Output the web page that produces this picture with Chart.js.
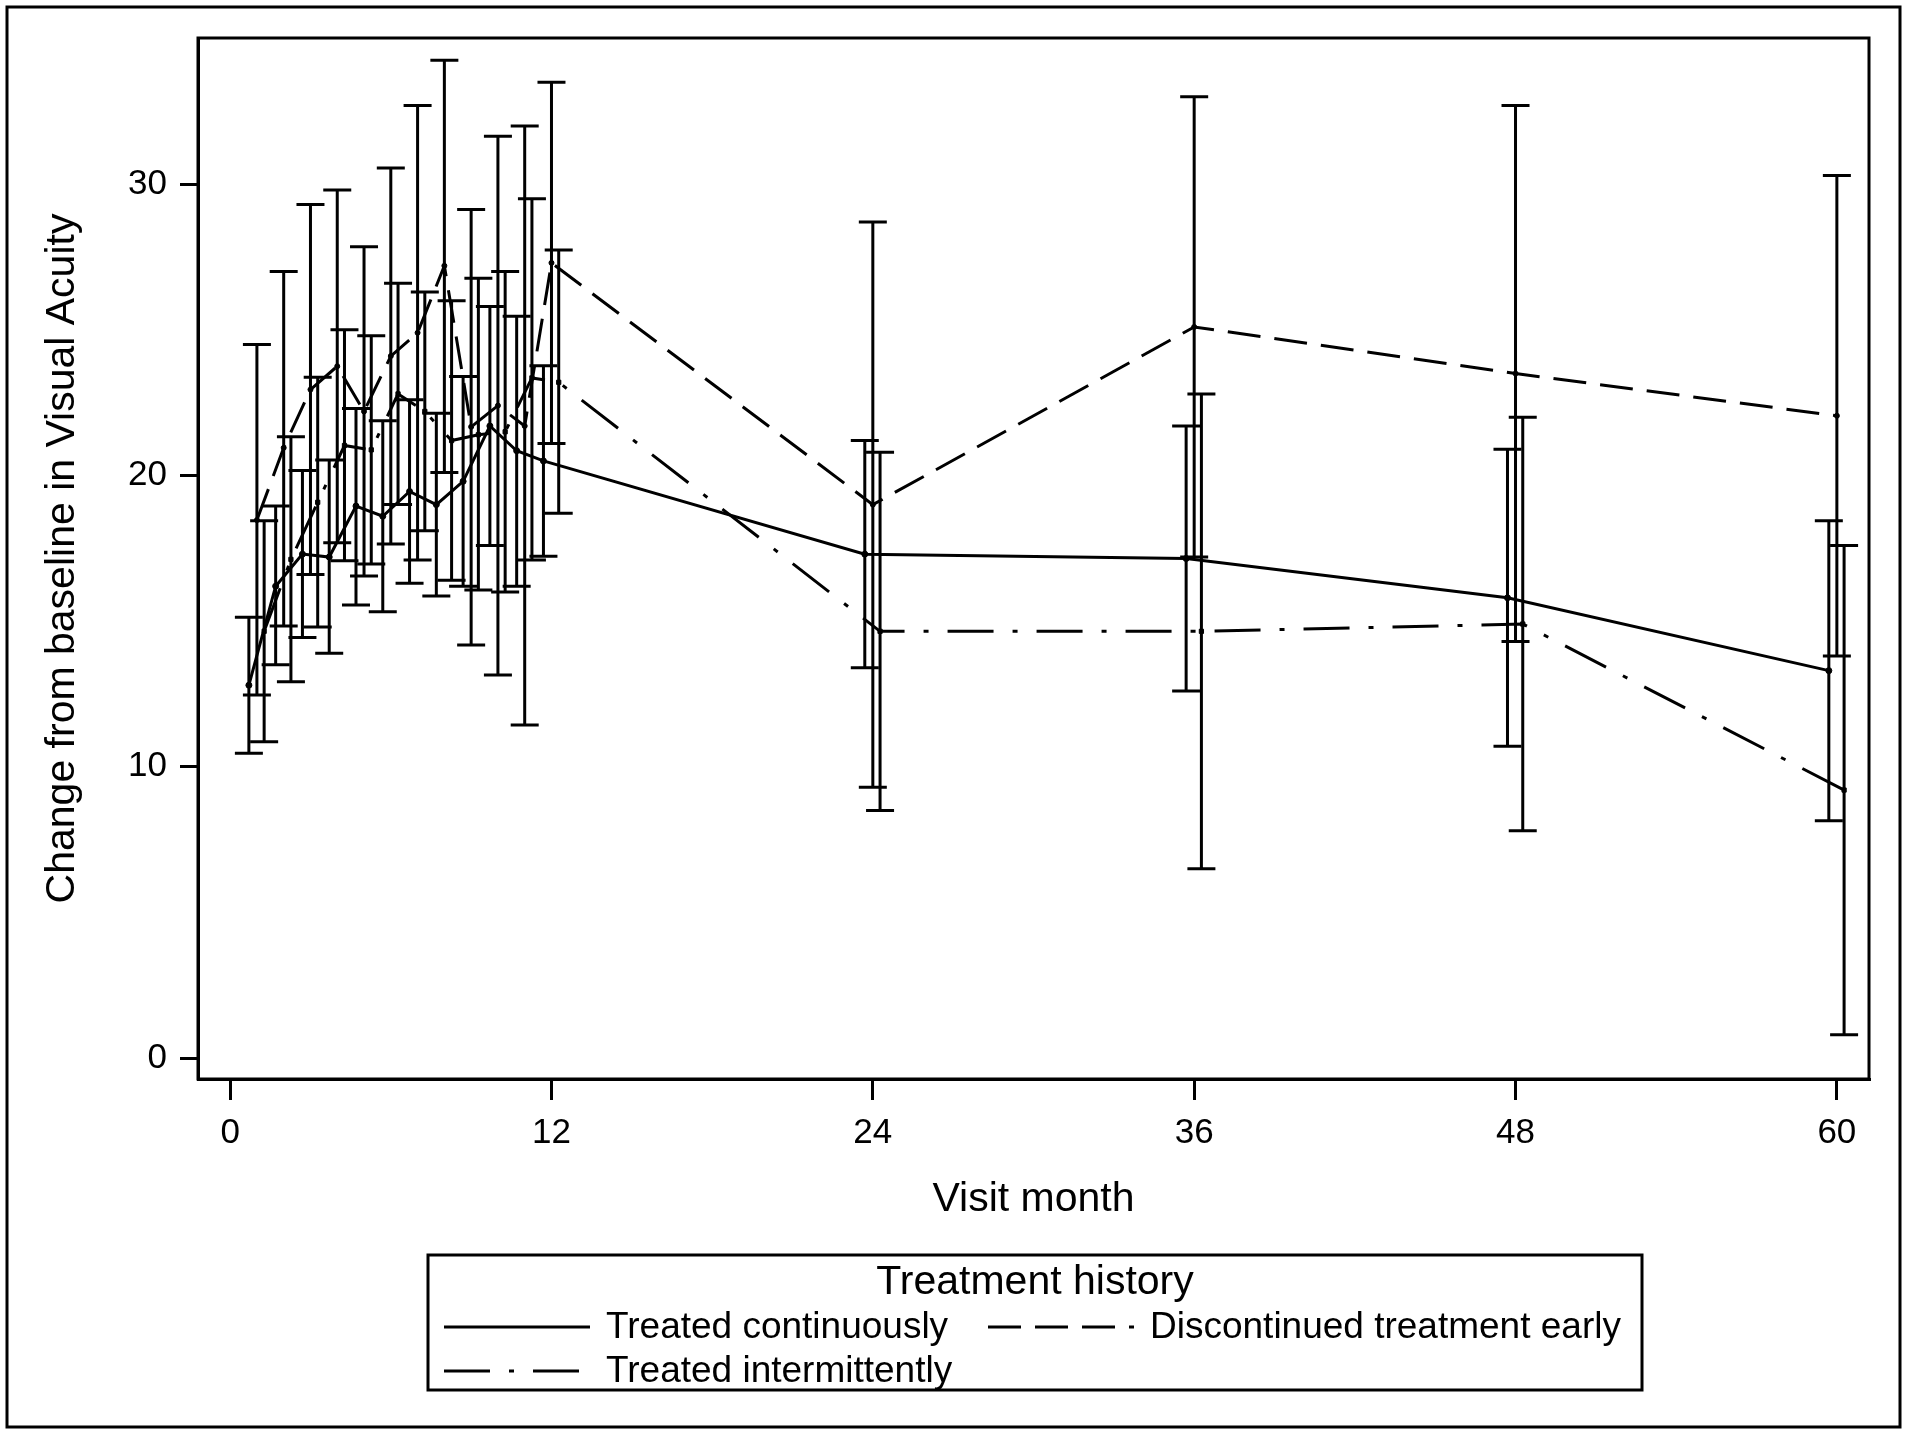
<!DOCTYPE html>
<html><head><meta charset="utf-8">
<script src="https://cdn.jsdelivr.net/npm/chart.js@4/dist/chart.umd.min.js"></script>
<style>html,body{margin:0;padding:0;background:#fff}#wrap{position:relative;width:1907px;height:1433px}canvas{display:block}</style>
</head><body><div id="wrap"><canvas id="c" width="1907" height="1433"></canvas></div>
<script>
// ---- data ----
const months = [1,2,3,4,5,6,7,8,9,10,11,12,24,36,48,60];
const xTicks = [0,12,24,36,48,60];
const yTicks = [0,10,20,30];

const seriesNames = ['Treated continuously','Discontinued treatment early','Treated intermittently'];

const contMean = [12.8,16.2,17.3,17.2,18.95,18.6,19.45,19.0,19.8,21.7,20.85,20.5,17.3,17.15,15.8,13.3];
const contHigh = [15.13,18.95,20.17,20.53,22.3,21.88,22.6,22.14,23.4,25.8,25.47,23.77,21.2,21.7,20.9,18.45];
const contLow  = [10.46,13.5,14.44,13.9,15.55,15.32,16.3,15.86,16.2,17.6,16.2,17.23,13.4,12.6,10.7,8.15];

const discMean = [18.47,20.95,22.95,23.75,22.2,24.1,24.9,27.2,21.67,22.4,21.7,27.3,19.0,25.1,23.5,22.05];
const discHigh = [24.5,27.0,29.3,29.8,27.85,30.56,32.7,34.26,29.13,31.65,32.0,33.5,28.7,33.0,32.7,30.3];
const discLow  = [12.46,14.83,16.6,17.69,16.55,17.65,17.1,20.1,14.18,13.15,11.43,21.1,9.3,17.2,14.3,13.8];

const interMean = [14.65,17.12,19.08,21.03,20.88,22.8,22.2,21.2,21.4,21.5,23.35,23.2,14.65,14.65,14.9,9.2];
const interHigh = [18.45,21.33,23.37,25.0,24.8,26.6,26.3,26.0,26.77,27.0,29.5,27.74,20.8,22.8,22.0,17.6];
const interLow  = [10.86,12.92,14.8,17.07,16.96,19.0,18.1,16.4,16.07,16.0,17.1,18.7,8.5,6.5,7.8,0.8];

// ---- style / layout ----
const FONT = '"Liberation Sans", Arial, Helvetica, sans-serif';
const LW = 3;
const OFFSETS = [-0.3, 0, 0.27];       // horizontal shift of each group (months)
const DASHES = [[], [33,14], [46,19,5,19]];
const CAP = 14;

function pts(mean, off){ return months.map((m,i)=>({x:m+off, y:mean[i]})); }

const errSets = [
  {low: contLow, high: contHigh},
  {low: discLow, high: discHigh},
  {low: interLow, high: interHigh}
];

const errorBars = {
  id:'errorBars',
  afterDatasetsDraw(chart){
    const {ctx, scales:{x,y}, chartArea:a} = chart;
    ctx.save();
    ctx.beginPath(); ctx.rect(a.left,a.top,a.right-a.left,a.bottom-a.top); ctx.clip();
    ctx.strokeStyle='#000'; ctx.lineWidth=LW; ctx.setLineDash([]); ctx.lineCap='butt';
    errSets.forEach((e,s)=>{
      months.forEach((m,i)=>{
        const px = x.getPixelForValue(m+OFFSETS[s]);
        const yh = y.getPixelForValue(e.high[i]);
        const yl = y.getPixelForValue(e.low[i]);
        ctx.beginPath();
        ctx.moveTo(px,yh); ctx.lineTo(px,yl);
        ctx.moveTo(px-CAP,yh); ctx.lineTo(px+CAP,yh);
        ctx.moveTo(px-CAP,yl); ctx.lineTo(px+CAP,yl);
        ctx.stroke();
      });
    });
    ctx.restore();
  }
};

const frames = {
  id:'frames',
  afterDraw(chart){
    const {ctx, chartArea:a} = chart;
    ctx.save();
    ctx.strokeStyle='#000'; ctx.lineWidth=LW; ctx.setLineDash([]);
    ctx.strokeRect(a.left,a.top,a.right-a.left,a.bottom-a.top);
    ctx.strokeRect(7,7,1893,1420);
    // legend
    ctx.strokeRect(428,1255,1214,135);
    ctx.fillStyle='#000';
    ctx.textBaseline='middle';
    ctx.textAlign='center';
    ctx.font='41px '+FONT;
    ctx.fillText('Treatment history',1035,1283);
    ctx.textAlign='left';
    ctx.font='37px '+FONT;
    const items = [
      {s:0, x:444, y:1327},
      {s:1, x:988, y:1327},
      {s:2, x:444, y:1371}
    ];
    items.forEach(it=>{
      ctx.beginPath();
      ctx.setLineDash(DASHES[it.s]);
      ctx.moveTo(it.x,it.y); ctx.lineTo(it.x+146,it.y);
      ctx.stroke();
      ctx.setLineDash([]);
      ctx.fillText(seriesNames[it.s], it.x+162, it.y+1);
    });
    ctx.restore();
  }
};

function ds(label, mean, s, pstyle, r){
  return {
    label, data: pts(mean, OFFSETS[s]),
    borderColor:'#000', backgroundColor:'#000', borderWidth:LW, borderDash:DASHES[s],
    pointStyle:pstyle, pointRadius:r, pointBorderWidth:1, pointBackgroundColor:'#000', pointBorderColor:'#000',
    tension:0, fill:false
  };
}

new Chart(document.getElementById('c'), {
  type:'line',
  data:{ datasets:[
    ds(seriesNames[0], contMean, 0, 'circle', 3),
    ds(seriesNames[1], discMean, 1, 'circle', 2.5),
    ds(seriesNames[2], interMean, 2, 'rect', 3)
  ]},
  options:{
    responsive:false, animation:false, devicePixelRatio:1,
    layout:{padding:{left:20, top:38, right:38, bottom:204}},
    plugins:{legend:{display:false}, tooltip:{enabled:false}},
    scales:{
      x:{
        type:'linear', min:-1.2, max:61.2,
        afterBuildTicks: s => { s.ticks = xTicks.map(v=>({value:v})); },
        afterFit: s => { s.height = 150; },
        ticks:{autoSkip:false, maxRotation:0, color:'#000', padding:12, font:{family:FONT, size:35}},
        grid:{display:true, drawOnChartArea:false, drawTicks:true, tickLength:21, color:'#000', lineWidth:LW},
        border:{display:true, color:'#000', width:LW},
        title:{display:true, text:'Visit month', color:'#000', font:{family:FONT, size:41}, padding:{top:0,bottom:5}}
      },
      y:{
        type:'linear', min:-0.72, max:35.02,
        afterBuildTicks: s => { s.ticks = yTicks.map(v=>({value:v})); },
        afterFit: s => { s.width = 178; },
        ticks:{autoSkip:false, color:'#000', padding:13, font:{family:FONT, size:35}},
        grid:{display:true, drawOnChartArea:false, drawTicks:true, tickLength:18, color:'#000', lineWidth:LW},
        border:{display:true, color:'#000', width:LW},
        title:{display:true, text:'Change from baseline in Visual Acuity', color:'#000', font:{family:FONT, size:41}, padding:{top:18,bottom:0}}
      }
    }
  },
  plugins:[errorBars, frames]
});
</script>
</body></html>
